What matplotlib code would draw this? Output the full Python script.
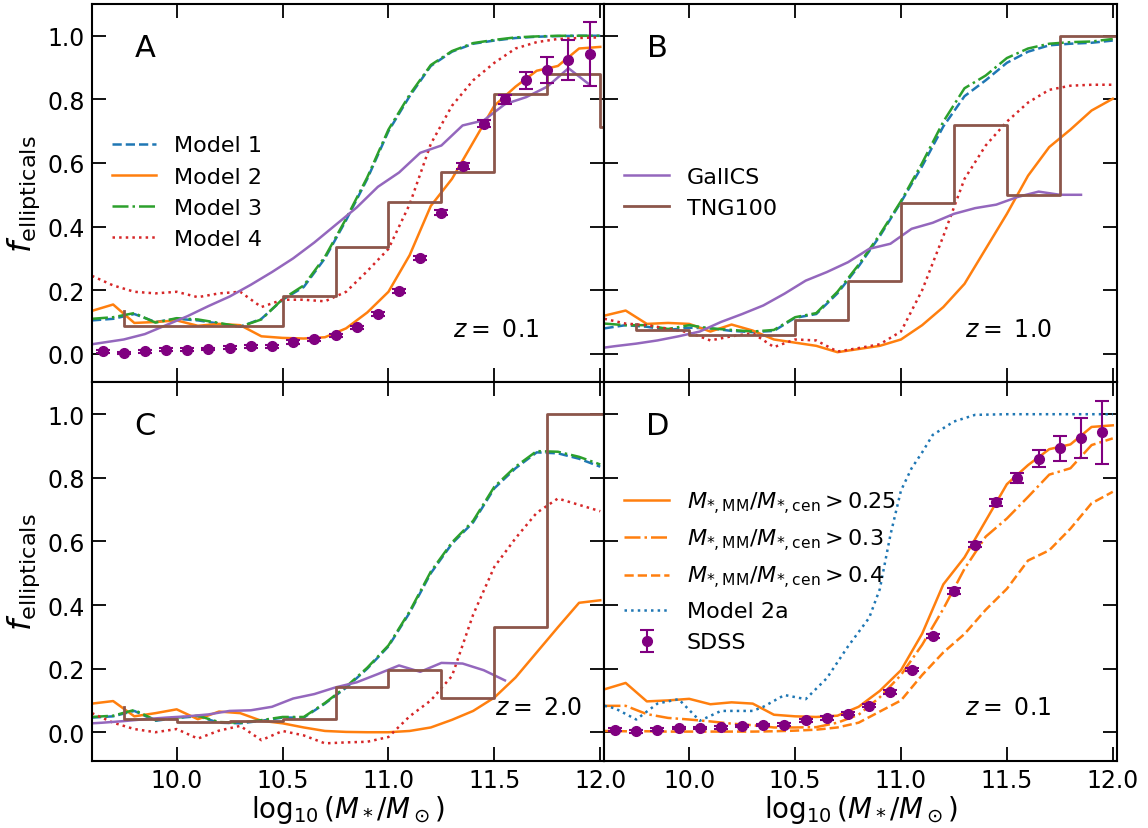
import numpy as np
import matplotlib
matplotlib.use("Agg")
import matplotlib.pyplot as plt

# stellar mass grid shared by the model curves (log10 M*/Msun)
mass_grid = np.linspace(9.6, 12.0, 25)

# ---- panel A, z = 0.1 ----
model1_z01 = [0.105, 0.11, 0.125, 0.10, 0.11, 0.105, 0.095, 0.085, 0.11, 0.17, 0.21, 0.30, 0.42,
              0.55, 0.70, 0.81, 0.905, 0.95, 0.975, 0.985, 0.993, 0.997, 0.999, 1.0, 1.0]
model2_z01 = [0.135, 0.155, 0.097, 0.10, 0.105, 0.088, 0.094, 0.09, 0.055, 0.05, 0.048, 0.052, 0.08,
              0.13, 0.195, 0.31, 0.465, 0.55, 0.665, 0.78, 0.84, 0.89, 0.905, 0.96, 0.965]
model3_z01 = [0.11, 0.115, 0.128, 0.098, 0.112, 0.108, 0.097, 0.085, 0.108, 0.172, 0.215, 0.305, 0.425,
              0.555, 0.705, 0.815, 0.908, 0.952, 0.977, 0.987, 0.995, 0.998, 1.0, 1.0, 1.0]
model4_z01 = [0.245, 0.215, 0.195, 0.19, 0.195, 0.178, 0.19, 0.195, 0.147, 0.17, 0.17, 0.165, 0.195,
              0.26, 0.33, 0.47, 0.66, 0.78, 0.86, 0.915, 0.96, 0.98, 0.99, 0.993, 0.995]

# ---- panel B, z = 1.0 ----
model1_z10 = [0.08, 0.09, 0.085, 0.075, 0.082, 0.08, 0.072, 0.068, 0.072, 0.113, 0.125, 0.19, 0.275,
              0.37, 0.477, 0.59, 0.715, 0.81, 0.86, 0.915, 0.95, 0.97, 0.975, 0.978, 0.985]
model2_z10 = [0.12, 0.136, 0.094, 0.097, 0.094, 0.07, 0.092, 0.073, 0.045, 0.035, 0.025, 0.005, 0.015,
              0.025, 0.045, 0.09, 0.147, 0.22, 0.33, 0.44, 0.56, 0.65, 0.705, 0.765, 0.802]
model3_z10 = [0.095, 0.09, 0.09, 0.078, 0.09, 0.08, 0.075, 0.07, 0.075, 0.115, 0.128, 0.195, 0.28,
              0.375, 0.48, 0.6, 0.73, 0.835, 0.875, 0.93, 0.96, 0.975, 0.98, 0.982, 0.99]
model4_z10 = [0.11, 0.095, 0.09, 0.079, 0.067, 0.042, 0.055, 0.065, 0.021, 0.045, 0.042, 0.007, 0.018,
              0.03, 0.07, 0.2, 0.37, 0.55, 0.655, 0.73, 0.79, 0.83, 0.843, 0.846, 0.846]

# ---- panel C, z = 2.0 ----
model1_z20 = [0.046, 0.05, 0.067, 0.036, 0.045, 0.05, 0.03, 0.028, 0.036, 0.046, 0.046, 0.09, 0.14,
              0.20, 0.27, 0.376, 0.50, 0.593, 0.66, 0.767, 0.83, 0.88, 0.877, 0.86, 0.835]
model2_z20 = [0.09, 0.098, 0.05, 0.06, 0.072, 0.041, 0.065, 0.06, 0.036, 0.028, 0.015, 0.004, 0.001,
              0.0, 0.0, 0.004, 0.015, 0.039, 0.067, 0.109, 0.172, 0.251, 0.33, 0.407, 0.415]
model3_z20 = [0.048, 0.052, 0.07, 0.038, 0.046, 0.052, 0.032, 0.03, 0.038, 0.048, 0.048, 0.092, 0.143,
              0.203, 0.273, 0.38, 0.505, 0.597, 0.665, 0.772, 0.835, 0.884, 0.882, 0.866, 0.842]
model4_z20 = [0.06, 0.03, 0.01, 0.0, 0.01, -0.02, 0.005, 0.02, -0.025, 0.004, -0.01, -0.035, -0.032,
              -0.03, -0.015, 0.05, 0.10, 0.177, 0.37, 0.52, 0.61, 0.69, 0.735, 0.715, 0.695]

# ---- GalICS (bin centres) ----
galics_mass = np.linspace(9.55, 11.95, 25)
galics_z01 = [0.025, 0.035, 0.045, 0.062, 0.09, 0.118, 0.15, 0.18, 0.217, 0.257, 0.30, 0.35, 0.405,
              0.46, 0.525, 0.57, 0.632, 0.655, 0.718, 0.734, 0.785, 0.807, 0.84, 0.898, 0.846]
galics_z10 = [0.015, 0.024, 0.032, 0.042, 0.055, 0.07, 0.10, 0.125, 0.152, 0.189, 0.23, 0.257, 0.288,
              0.33, 0.346, 0.393, 0.412, 0.44, 0.458, 0.469, 0.493, 0.51, 0.50, 0.50]
galics_z20 = [0.026, 0.03, 0.035, 0.041, 0.046, 0.05, 0.056, 0.067, 0.069, 0.08, 0.106, 0.12, 0.141,
              0.157, 0.183, 0.21, 0.19, 0.218, 0.216, 0.195, 0.163]

# ---- TNG100 (right bin edges, drawn as 'pre' steps) ----
tng_edges = [9.75, 10.0, 10.25, 10.5, 10.75, 11.0, 11.25, 11.5, 11.75, 12.0, 12.25]
tng_z01 = [0.133, 0.086, 0.086, 0.086, 0.183, 0.335, 0.477, 0.571, 0.818, 0.88, 0.713]
tng_z10 = [0.094, 0.075, 0.06, 0.06, 0.105, 0.228, 0.475, 0.72, 0.50, 1.0, 1.0]
tng_z20 = [0.08, 0.041, 0.031, 0.036, 0.041, 0.141, 0.196, 0.109, 0.332, 1.0, 1.0]

# ---- SDSS ----
sdss_mass = np.linspace(9.65, 11.95, 24)
sdss_frac = [0.008, 0.003, 0.008, 0.013, 0.013, 0.015, 0.019, 0.023, 0.024, 0.037, 0.045, 0.058,
             0.083, 0.126, 0.197, 0.302, 0.444, 0.590, 0.723, 0.800, 0.860, 0.893, 0.924, 0.943]
sdss_err = [0.004, 0.004, 0.004, 0.004, 0.004, 0.004, 0.004, 0.004, 0.005, 0.005, 0.005, 0.005,
            0.005, 0.006, 0.006, 0.007, 0.008, 0.009, 0.011, 0.015, 0.027, 0.04, 0.063, 0.1]

# ---- panel D: merger mass ratio thresholds + Model 2a ----
ratio_03 = [0.083, 0.083, 0.057, 0.045, 0.04, 0.034, 0.027, 0.022, 0.015, 0.015, 0.016, 0.03, 0.055,
            0.11, 0.18, 0.275, 0.388, 0.514, 0.615, 0.672, 0.74, 0.81, 0.83, 0.903, 0.924]
ratio_04 = [0.004, 0.003, 0.003, 0.002, 0.002, 0.002, 0.002, 0.002, 0.003, 0.005, 0.008, 0.015, 0.03,
            0.065, 0.1, 0.18, 0.251, 0.309, 0.385, 0.451, 0.54, 0.572, 0.64, 0.72, 0.756]
model2a_mass = [9.6, 9.65, 9.75, 9.85, 9.95, 10.05, 10.15, 10.3, 10.35, 10.45, 10.55, 10.65, 10.75,
                10.85, 10.9, 10.95, 11.0, 11.05, 11.1, 11.15, 11.25, 11.35, 11.5, 11.75, 12.0]
model2a_frac = [0.083, 0.075, 0.04, 0.09, 0.104, 0.036, 0.067, 0.067, 0.08, 0.117, 0.104, 0.17, 0.27,
                0.36, 0.45, 0.62, 0.76, 0.83, 0.88, 0.935, 0.977, 0.998, 1.0, 1.0, 1.0]

models = {
    "0.1": (model1_z01, model2_z01, model3_z01, model4_z01, galics_z01, tng_z01),
    "1.0": (model1_z10, model2_z10, model3_z10, model4_z10, galics_z10, tng_z10),
    "2.0": (model1_z20, model2_z20, model3_z20, model4_z20, galics_z20, tng_z20),
}

fig, axes = plt.subplots(2, 2, sharex=True, sharey=True, figsize=(11.48, 8.29), dpi=100)
plt.subplots_adjust(left=0.0801, right=0.973, bottom=0.081, top=0.994, wspace=0, hspace=0)

lw = 1.8
for ax, z in zip([axes[0, 0], axes[0, 1], axes[1, 0]], ["0.1", "1.0", "2.0"]):
    m1, m2, m3, m4, gal, tng = models[z]
    ax.plot(mass_grid, m1, color="C0", ls="--", lw=lw, label="Model 1")
    ax.plot(mass_grid, m2, color="C1", ls="-", lw=lw, label="Model 2")
    ax.plot(mass_grid, m3, color="C2", ls="-.", lw=lw, label="Model 3")
    ax.plot(mass_grid, m4, color="C3", ls=":", lw=lw, label="Model 4")
    ax.plot(galics_mass[:len(gal)], gal, color="C4", lw=lw, label="GalICS")
    ax.step(tng_edges, tng, where="pre", color="C5", lw=2, label="TNG100")

# SDSS in panel A
axes[0, 0].errorbar(sdss_mass, sdss_frac, yerr=sdss_err, fmt="o", color="purple",
                    ms=7, capsize=5, elinewidth=1.5, capthick=1.5)

# panel D
axd = axes[1, 1]
axd.plot(mass_grid, model2_z01, color="C1", ls="-", lw=lw,
         label=r"$M_{*,\rm MM}/M_{*,\rm cen}>0.25$")
axd.plot(mass_grid, ratio_03, color="C1", ls="-.", lw=lw,
         label=r"$M_{*,\rm MM}/M_{*,\rm cen}>0.3$")
axd.plot(mass_grid, ratio_04, color="C1", ls="--", lw=lw,
         label=r"$M_{*,\rm MM}/M_{*,\rm cen}>0.4$")
axd.plot(model2a_mass, model2a_frac, color="C0", ls=":", lw=lw, label="Model 2a")
axd.errorbar(sdss_mass, sdss_frac, yerr=sdss_err, fmt="o", color="purple",
             ms=7, capsize=5, elinewidth=1.5, capthick=1.5, label="SDSS")

# legends
h, l = axes[0, 0].get_legend_handles_labels()
axes[0, 0].legend(h[:4], l[:4], loc="center left", bbox_to_anchor=(0, 0.503),
                  frameon=False, fontsize=16)
h, l = axes[0, 1].get_legend_handles_labels()
axes[0, 1].legend(h[4:6], l[4:6], loc="center left", bbox_to_anchor=(0, 0.503),
                  frameon=False, fontsize=16)
axd.legend(loc="center left", bbox_to_anchor=(0, 0.502), frameon=False, fontsize=16)

letters = ["A", "B", "C", "D"]
zlabels = ["0.1", "1.0", "2.0", "0.1"]
zx = [0.704, 0.704, 0.787, 0.704]
for ax, let, zl, x in zip(axes.flat, letters, zlabels, zx):
    ax.text(0.104, 0.885, let, transform=ax.transAxes, fontsize=22, ha="center", va="center")
    ax.text(x, 0.142, r"$z=$ " + zl, transform=ax.transAxes, fontsize=17, ha="left", va="center")
    ax.tick_params(direction="in", top=True, right=True, length=10, width=1.3, labelsize=17, pad=5)
    for s in ax.spines.values():
        s.set_linewidth(1.5)

axes[0, 0].set_xlim(9.6, 12.02)
axes[0, 0].set_ylim(-0.09, 1.1)
axes[0, 0].set_xticks([10.0, 10.5, 11.0, 11.5, 12.0])
axes[0, 0].set_yticks([0.0, 0.2, 0.4, 0.6, 0.8, 1.0])
for ax in axes[1]:
    ax.set_xlabel(r"$\log_{10}(M_*/M_\odot)$", fontsize=20, labelpad=1)
for ax in axes[:, 0]:
    ax.set_ylabel(r"$f_{\rm ellipticals}$", fontsize=23, labelpad=4)

plt.savefig("out.png", dpi=100)
